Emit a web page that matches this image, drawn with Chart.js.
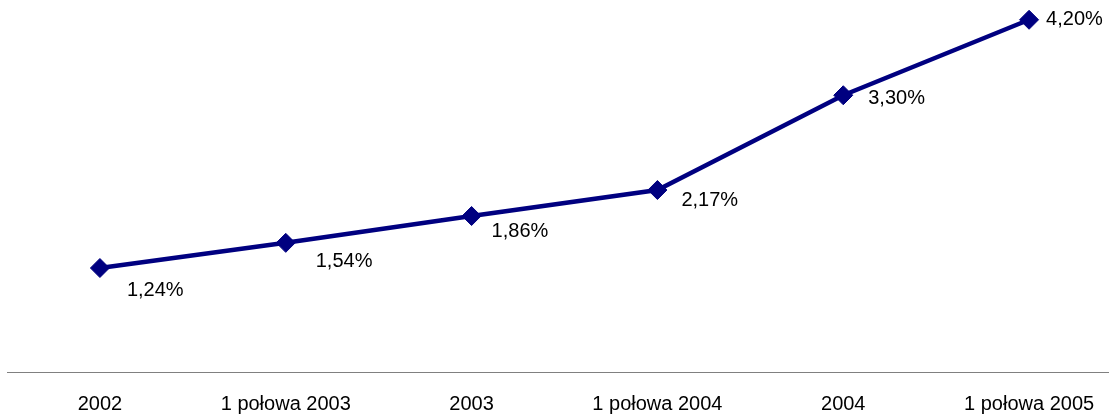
<!DOCTYPE html>
<html>
<head>
<meta charset="utf-8">
<script src="https://cdn.jsdelivr.net/npm/chart.js@4.4.1/dist/chart.umd.min.js"></script>
<style>
  html, body { margin: 0; padding: 0; background: #fff; overflow: hidden; }
  #wrap { position: relative; width: 1122px; height: 414px; }
</style>
</head>
<body>
<div id="wrap"><canvas id="chart"></canvas></div>
<script>
// Periods on the X axis
const categories = ['2002', '1 połowa 2003', '2003', '1 połowa 2004', '2004', '1 połowa 2005'];
// Values in percent
const values = [1.24, 1.54, 1.86, 2.17, 3.30, 4.20];
// Label text as printed on the chart (Polish decimal comma)
const valueLabels = ['1,24%', '1,54%', '1,86%', '2,17%', '3,30%', '4,20%'];

// Draws the value labels next to each marker (like Excel "right" labels)
const valueLabelPlugin = {
  id: 'valueLabels',
  afterDatasetsDraw(chart, args, opts) {
    const ctx = chart.ctx;
    const meta = chart.getDatasetMeta(0);
    ctx.save();
    ctx.font = '20px "Liberation Sans", Arial, sans-serif';
    ctx.fillStyle = '#000';
    ctx.textAlign = 'left';
    ctx.textBaseline = 'middle';
    meta.data.forEach((pt, i) => {
      const off = opts.offsets[i] || [20, 0];
      ctx.fillText(valueLabels[i], pt.x + off[0], pt.y + off[1]);
    });
    ctx.restore();
  }
};

const ctx = document.getElementById('chart').getContext('2d');
new Chart(ctx, {
  type: 'line',
  data: {
    labels: categories,
    datasets: [{
      data: values,
      borderColor: '#000080',
      backgroundColor: '#000080',
      borderWidth: 4.5,
      tension: 0,
      pointStyle: 'rectRot',
      pointRadius: 9.5,
      pointBorderWidth: 1,
      pointBorderColor: '#000080',
      pointBackgroundColor: '#000080',
      fill: false,
      clip: false
    }]
  },
  options: {
    responsive: true,
    maintainAspectRatio: false,
    animation: false,
    layout: { autoPadding: false, padding: { top: 3, left: 7, right: 0, bottom: -22 } },
    plugins: {
      legend: { display: false },
      tooltip: { enabled: false },
      valueLabels: {
        // label offset from marker centre, per point
        offsets: [[27, 22], [30, 19], [20, 15], [24, 10], [25, 3], [17, 0]]
      }
    },
    scales: {
      x: {
        offset: true,
        grid: { display: false, drawTicks: false },
        border: { display: true, color: '#808080', width: 1 },
        ticks: {
          color: '#000',
          padding: 22,
          maxRotation: 0,
          autoSkip: false,
          font: { family: '"Liberation Sans", Arial, sans-serif', size: 20, lineHeight: 1 }
        }
      },
      y: {
        display: false,
        min: 0,
        max: 4.4
      }
    }
  },
  plugins: [valueLabelPlugin]
});
</script>
</body>
</html>
